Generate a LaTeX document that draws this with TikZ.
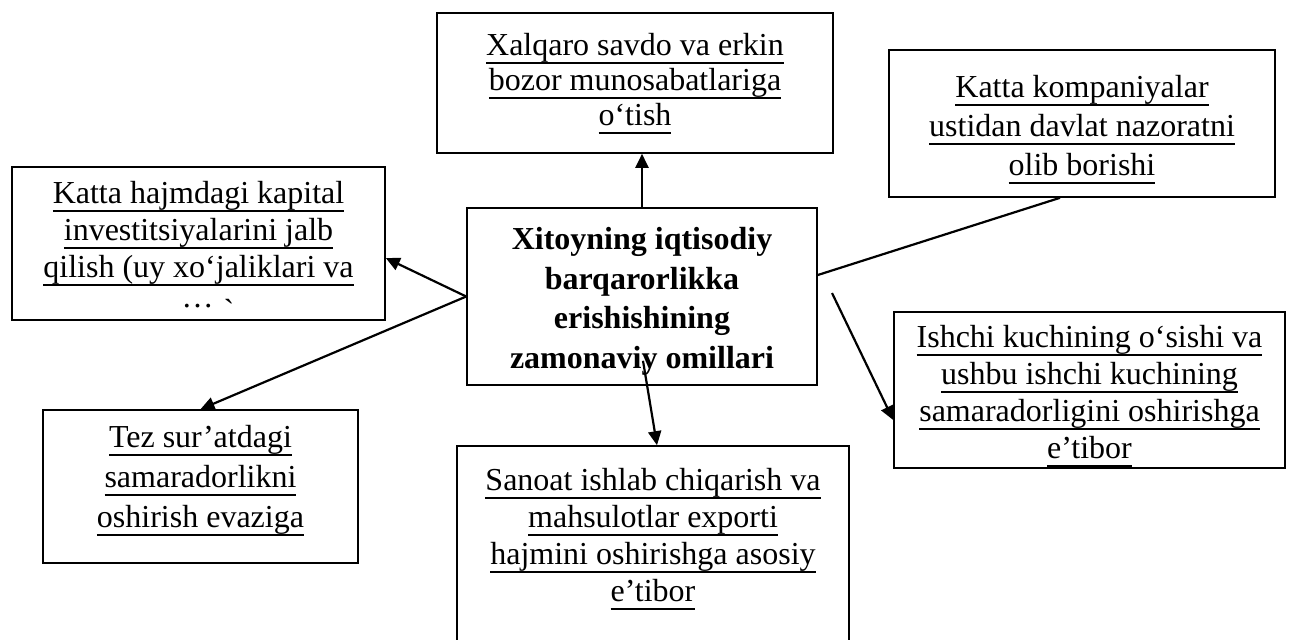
\documentclass[tikz,border=0pt]{standalone}
\usepackage{fontspec}
\setmainfont{Liberation Serif}
\usetikzlibrary{arrows.meta}
\newcommand{\ulin}[1]{\setbox0=\hbox{#1}\rlap{\rule[-3.9pt]{\wd0}{1pt}}\box0}
\tikzset{
  box/.style={draw, line width=0.8pt, inner sep=0pt},
  txt/.style={align=center, inner sep=0pt, anchor=north, font=\fontsize{16}{18.5}\selectfont},
  link/.style={line width=1.1pt, -{Triangle[length=7pt,width=6.5pt]}},
}
\begin{document}
\begin{tikzpicture}[x=0.5pt,y=-0.5pt]
      \clip (0,0) rectangle (1294,639);
      % boxes
      \node[box, minimum width=198pt, minimum height=70pt] (top) at (635,83) {};
      \node[box, minimum width=193pt, minimum height=73.5pt] (topright) at (1082,123.5) {};
      \node[box, minimum width=186.5pt, minimum height=76.5pt] (left) at (198.5,243.5) {};
      \node[box, minimum width=175pt, minimum height=88.5pt] (mid) at (642,296.5) {};
      \node[box, minimum width=195.5pt, minimum height=78pt] (right) at (1089.5,390) {};
      \node[box, minimum width=157.5pt, minimum height=76.5pt] (botleft) at (200.5,486.5) {};
      \node[box, minimum width=196pt, minimum height=107pt] (bot) at (653,553) {};
      % texts
      \node[txt, font=\fontsize{16}{17.5}\selectfont] (toptext) at ([yshift=-10.5pt]top.north)
        {\ulin{Xalqaro savdo va erkin}\\\ulin{bozor munosabatlariga}\\\ulin{o‘tish}};
      \node[txt, font=\fontsize{16}{19.5}\selectfont] (toprighttext) at ([yshift=-13pt]topright.north)
        {\ulin{Katta kompaniyalar}\\\ulin{ustidan davlat nazoratni}\\\ulin{olib borishi}};
      \node[txt] (lefttext) at ([yshift=-7.5pt]left.north)
        {\ulin{Katta hajmdagi kapital}\\\ulin{investitsiyalarini jalb}\\\ulin{qilish (uy xo‘jaliklari va}};
      \node[inner sep=0pt, font=\fontsize{16}{18.5}\selectfont] (leftcut) at (208,310)
        {\dots\hspace{5pt}\raisebox{-7pt}{\textasciigrave}};
      \node[txt, font=\fontsize{16}{19.75}\selectfont\bfseries] (midtext) at ([yshift=-10pt]mid.north)
        {Xitoyning iqtisodiy\\barqarorlikka\\erishishining\\zamonaviy omillari};
      \node[txt] (righttext) at ([yshift=-7pt]right.north)
        {\ulin{Ishchi kuchining o‘sishi va}\\\ulin{ushbu ishchi kuchining}\\\ulin{samaradorligini oshirishga}\\\ulin{e’tibor}};
      \node[txt, font=\fontsize{16}{20}\selectfont] (botlefttext) at ([yshift=-8pt]botleft.north)
        {\ulin{Tez sur’atdagi}\\\ulin{samaradorlikni}\\\ulin{oshirish evaziga}};
      \node[txt] (bottext) at ([yshift=-11.5pt]bot.north)
        {\ulin{Sanoat ishlab chiqarish va}\\\ulin{mahsulotlar exporti}\\\ulin{hajmini oshirishga asosiy}\\\ulin{e’tibor}};
      % connectors
      \coordinate (rstart) at (832,293);
      \draw[link] (mid.north) -- (mid.north |- top.south);
      \draw[link] (mid.west) -- ([yshift=-7.25pt]left.east);
      \draw[link] (mid.west) -- (botleft.north);
      \draw[link] ([shift={(1,-25)}]mid.south) -- ([xshift=2pt]bot.north);
      \draw[line width=1.1pt] ([yshift=10.75pt]mid.east) -- ([xshift=-11pt]topright.south);
      \draw[link] (rstart) -- ([yshift=-15pt]right.west);
\end{tikzpicture}
\end{document}
